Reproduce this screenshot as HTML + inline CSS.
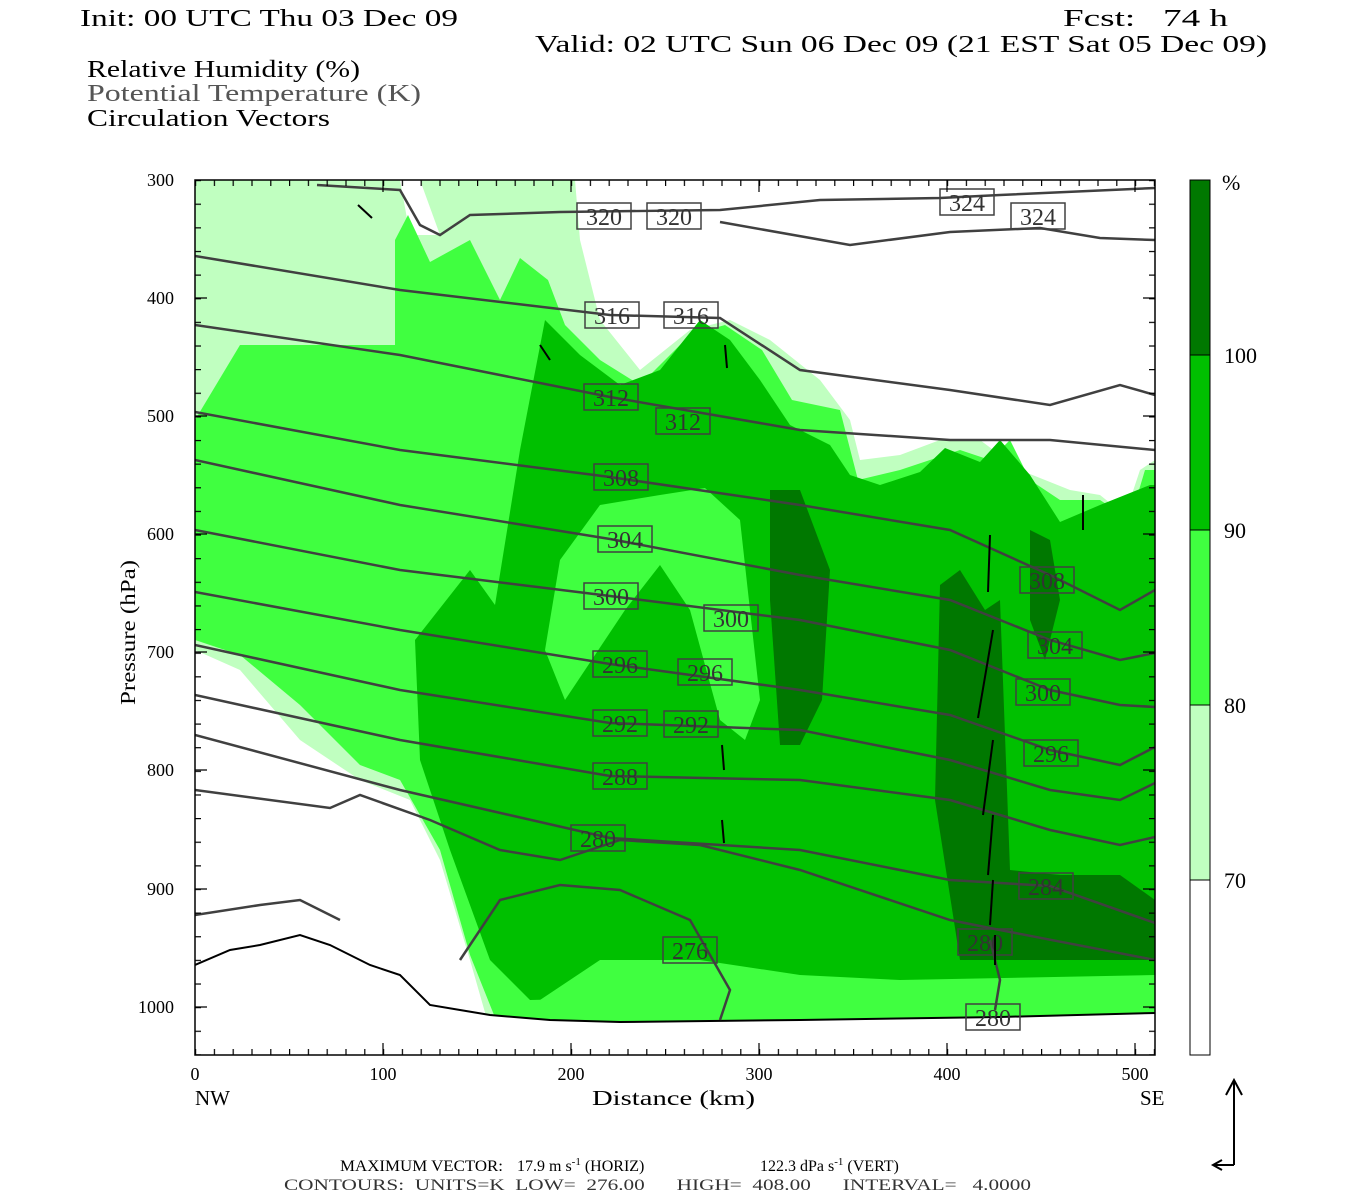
<!DOCTYPE html>
<html><head><meta charset="utf-8"><style>
body{margin:0;background:#fff;}
svg{display:block;font-family:"Liberation Serif",serif;}
text{white-space:pre;}
</style></head><body>
<svg width="1350" height="1200" viewBox="0 0 1350 1200" xmlns="http://www.w3.org/2000/svg">
<defs>
<clipPath id="c"><rect x="195" y="180" width="960" height="875"/></clipPath>
<pattern id="tx" x="195" y="0" width="18.8" height="10" patternUnits="userSpaceOnUse"><rect x="0" y="0" width="1.2" height="10" fill="#000"/></pattern>
<pattern id="ty" x="0" y="180" width="10" height="23.63" patternUnits="userSpaceOnUse"><rect x="0" y="0" width="10" height="1.2" fill="#000"/></pattern>
</defs>
<rect width="1350" height="1200" fill="#fff"/>
<g font-size="24" fill="#000">
<text x="80" y="26" textLength="378" lengthAdjust="spacingAndGlyphs">Init: 00 UTC Thu 03 Dec 09</text>
<text x="1063" y="26" textLength="165" lengthAdjust="spacingAndGlyphs">Fcst:   74 h</text>
<text x="535" y="52" textLength="732" lengthAdjust="spacingAndGlyphs">Valid: 02 UTC Sun 06 Dec 09 (21 EST Sat 05 Dec 09)</text>
<text x="87" y="77" textLength="273" lengthAdjust="spacingAndGlyphs">Relative Humidity (%)</text>
<text x="87" y="101" fill="#555" textLength="334" lengthAdjust="spacingAndGlyphs">Potential Temperature (K)</text>
<text x="87" y="126" textLength="243" lengthAdjust="spacingAndGlyphs">Circulation Vectors</text>
</g>
<g clip-path="url(#c)">
<polygon fill="#c0ffc0" points="195,180 575,180 580,240 600,320 640,370 690,330 730,320 770,340 820,380 850,420 860,460 900,455 940,440 980,440 1020,470 1070,490 1100,495 1125,515 1140,470 1155,460 1155,1030 490,1030 470,960 440,860 410,800 360,780 300,740 240,670 195,650"/>
<polygon fill="#fff" points="400,180 420,180 440,235 410,235"/>
<polygon fill="#40ff40" points="195,420 240,345 395,345 395,240 408,215 430,262 470,240 500,300 520,258 548,280 565,325 600,360 640,385 690,335 725,325 762,350 792,400 840,410 858,480 900,470 930,460 960,450 990,460 1010,440 1030,480 1060,500 1100,500 1130,520 1145,470 1155,470 1155,1030 500,1030 470,955 440,850 400,780 360,765 300,705 240,655 195,640"/>
<polygon fill="#00c000" points="415,640 470,570 495,605 520,450 545,320 580,355 620,385 660,370 700,320 730,340 760,380 790,425 830,445 850,475 880,485 920,472 945,448 980,462 1000,440 1030,475 1060,522 1100,505 1150,485 1155,485 1155,985 530,1000 490,960 450,850 420,760"/>
<polygon fill="#40ff40" points="560,560 600,505 660,495 705,488 740,520 760,700 745,740 720,720 690,610 660,565 625,610 565,700 545,650"/>
<polygon fill="#40ff40" points="540,1000 600,960 700,960 800,975 900,980 1155,975 1155,1030 540,1030"/>
<polygon fill="#007800" points="770,490 800,490 830,570 822,700 800,745 780,745 770,600"/>
<polygon fill="#007800" points="940,585 960,570 985,610 1000,600 1010,870 1060,875 1120,875 1155,900 1155,960 960,960 935,800"/>
<polygon fill="#007800" points="1030,530 1050,540 1060,600 1045,660 1030,620"/>
<polygon fill="#fff" points="195,965 230,950 260,945 300,935 330,945 370,965 400,975 430,1005 460,1010 490,1015 550,1020 620,1022 800,1020 1000,1017 1155,1013 1155,1055 195,1055"/>
<polyline fill="none" stroke="#000" stroke-width="2" points="195,965 230,950 260,945 300,935 330,945 370,965 400,975 430,1005 460,1010 490,1015 550,1020 620,1022 800,1020 1000,1017 1155,1013"/>
<g fill="none" stroke="#404040" stroke-width="2.5">
<polyline points="317,185 400,190 420,225 440,235 470,215 560,212 720,210 820,200 940,198 1000,195 1155,188"/>
<polyline points="720,222 850,245 950,232 1040,228 1100,238 1155,240"/>
<polyline points="195,256 400,290 610,315 720,318 800,370 950,390 1050,405 1120,385 1155,395"/>
<polyline points="195,325 400,355 610,397 800,430 950,440 1050,440 1155,450"/>
<polyline points="195,412 400,450 610,477 800,505 950,530 1050,575 1120,610 1155,590"/>
<polyline points="195,460 400,505 610,539 800,575 950,600 1050,640 1120,660 1155,653"/>
<polyline points="195,530 400,570 610,596 800,620 950,650 1050,690 1120,705 1155,707"/>
<polyline points="195,592 400,630 610,664 800,690 950,715 1050,750 1120,765 1155,747"/>
<polyline points="195,645 400,690 610,723 800,730 950,760 1050,790 1120,800 1155,783"/>
<polyline points="195,695 400,740 610,776 800,780 950,800 1050,830 1120,845 1155,837"/>
<polyline points="195,735 400,790 610,838 800,850 950,880 1050,886 1155,923"/>
<polyline points="195,790 330,808 360,795 430,820 500,850 560,860 620,840 700,845 800,870 950,920 1000,930 1155,960"/>
<polyline points="195,915 260,905 300,900 340,920"/>
<polyline points="460,960 500,900 560,885 620,890 690,920 730,990 720,1020"/>
<polyline points="990,940 1000,980 995,1010"/>
</g>
<g fill="none" stroke="#404040" stroke-width="1.5">
<rect x="577" y="203" width="54" height="26"/><rect x="647" y="203" width="54" height="26"/>
<rect x="940" y="189" width="54" height="26"/><rect x="1011" y="203" width="54" height="26"/>
<rect x="585" y="302" width="54" height="26"/><rect x="664" y="302" width="54" height="26"/>
<rect x="584" y="384" width="54" height="26"/><rect x="656" y="408" width="54" height="26"/>
<rect x="594" y="464" width="54" height="26"/><rect x="1020" y="567" width="54" height="26"/>
<rect x="598" y="526" width="54" height="26"/><rect x="1028" y="632" width="54" height="26"/>
<rect x="584" y="583" width="54" height="26"/><rect x="704" y="605" width="54" height="26"/><rect x="1016" y="679" width="54" height="26"/>
<rect x="593" y="651" width="54" height="26"/><rect x="678" y="659" width="54" height="26"/><rect x="1024" y="740" width="54" height="26"/>
<rect x="593" y="710" width="54" height="26"/><rect x="664" y="711" width="54" height="26"/>
<rect x="593" y="763" width="54" height="26"/><rect x="571" y="825" width="54" height="26"/>
<rect x="1019" y="873" width="54" height="26"/><rect x="958" y="929" width="54" height="26"/>
<rect x="966" y="1004" width="54" height="26"/><rect x="663" y="937" width="54" height="26"/>
</g>
<g font-size="24" fill="#333" text-anchor="middle">
<text x="604" y="225">320</text><text x="674" y="225">320</text>
<text x="967" y="211">324</text><text x="1038" y="225">324</text>
<text x="612" y="324">316</text><text x="691" y="324">316</text>
<text x="611" y="406">312</text><text x="683" y="430">312</text>
<text x="621" y="486">308</text><text x="1047" y="589">308</text>
<text x="625" y="548">304</text><text x="1055" y="654">304</text>
<text x="611" y="605">300</text><text x="731" y="627">300</text><text x="1043" y="701">300</text>
<text x="620" y="673">296</text><text x="705" y="681">296</text><text x="1051" y="762">296</text>
<text x="620" y="732">292</text><text x="691" y="733">292</text>
<text x="620" y="785">288</text><text x="598" y="847">280</text>
<text x="1046" y="895">284</text><text x="985" y="951">280</text>
<text x="993" y="1026">280</text><text x="690" y="959">276</text>
</g>
<g stroke="#000" stroke-width="2">
<line x1="990" y1="535" x2="988" y2="592"/><line x1="993" y1="630" x2="978" y2="718"/>
<line x1="993" y1="740" x2="983" y2="815"/><line x1="993" y1="815" x2="988" y2="875"/>
<line x1="993" y1="880" x2="990" y2="925"/><line x1="995" y1="935" x2="995" y2="965"/>
<line x1="1083" y1="530" x2="1083" y2="495"/><line x1="725" y1="345" x2="727" y2="368"/>
<line x1="722" y1="745" x2="724" y2="770"/><line x1="722" y1="820" x2="724" y2="843"/>
<line x1="358" y1="205" x2="372" y2="218"/><line x1="540" y1="345" x2="550" y2="360"/>
</g>
</g>
<rect x="195" y="180" width="960" height="6" fill="url(#tx)"/>
<rect x="195" y="1049" width="960" height="6" fill="url(#tx)"/>
<rect x="195" y="180" width="6" height="875" fill="url(#ty)"/>
<rect x="1149" y="180" width="6" height="875" fill="url(#ty)"/>
<rect x="195" y="180" width="960" height="875" fill="none" stroke="#000" stroke-width="1.5"/>
<g stroke="#000" stroke-width="1.2">
<path d="M195,298h12M195,416h12M195,534h12M195,652h12M195,770h12M195,889h12M195,1007h12M1155,298h-12M1155,416h-12M1155,534h-12M1155,652h-12M1155,770h-12M1155,889h-12M1155,1007h-12"/>
<path d="M383,1055v-12M571,1055v-12M759,1055v-12M947,1055v-12M1135,1055v-12M383,180v12M571,180v12M759,180v12M947,180v12M1135,180v12"/>
</g>
<g font-size="18" text-anchor="end">
<text x="174" y="186">300</text><text x="174" y="304">400</text><text x="174" y="422">500</text>
<text x="174" y="540">600</text><text x="174" y="658">700</text><text x="174" y="776">800</text>
<text x="174" y="895">900</text><text x="174" y="1013">1000</text>
</g>
<g font-size="18" text-anchor="middle">
<text x="195" y="1080">0</text><text x="383" y="1080">100</text><text x="571" y="1080">200</text>
<text x="759" y="1080">300</text><text x="947" y="1080">400</text><text x="1135" y="1080">500</text>
</g>
<g font-size="21">
<text x="195" y="1105">NW</text><text x="1140" y="1105">SE</text>
<text x="592" y="1105" textLength="163" lengthAdjust="spacingAndGlyphs">Distance (km)</text>
<text transform="translate(135,705) rotate(-90)" textLength="145" lengthAdjust="spacingAndGlyphs">Pressure (hPa)</text>
</g>
<rect x="1190" y="180" width="20" height="175" fill="#007800"/>
<rect x="1190" y="355" width="20" height="175" fill="#00c000"/>
<rect x="1190" y="530" width="20" height="175" fill="#40ff40"/>
<rect x="1190" y="705" width="20" height="175" fill="#c0ffc0"/>
<rect x="1190" y="880" width="20" height="175" fill="#fff"/>
<g stroke="#000" fill="none"><rect x="1190" y="180" width="20" height="875"/><path d="M1190,355h20M1190,530h20M1190,705h20M1190,880h20"/></g>
<g font-size="22">
<text x="1222" y="190">%</text><text x="1224" y="363">100</text><text x="1224" y="538">90</text>
<text x="1224" y="713">80</text><text x="1224" y="888">70</text>
</g>
<g stroke="#000" stroke-width="2" fill="none">
<path d="M1234,1165V1080M1226,1095L1234,1080L1242,1095M1234,1165H1213M1222,1160L1213,1165L1222,1170"/>
</g>
<g font-size="16" fill="#000">
<text x="340" y="1171" textLength="163" lengthAdjust="spacingAndGlyphs">MAXIMUM VECTOR:</text>
<text x="517" y="1171">17.9 m s<tspan dy="-6" font-size="11">-1</tspan><tspan dy="6"> (HORIZ)</tspan></text>
<text x="760" y="1171">122.3 dPa s<tspan dy="-6" font-size="11">-1</tspan><tspan dy="6"> (VERT)</tspan></text>
<text x="284" y="1190" fill="#333" textLength="747" lengthAdjust="spacingAndGlyphs">CONTOURS:  UNITS=K  LOW=  276.00      HIGH=  408.00      INTERVAL=   4.0000</text>
</g>
</svg>
</body></html>
